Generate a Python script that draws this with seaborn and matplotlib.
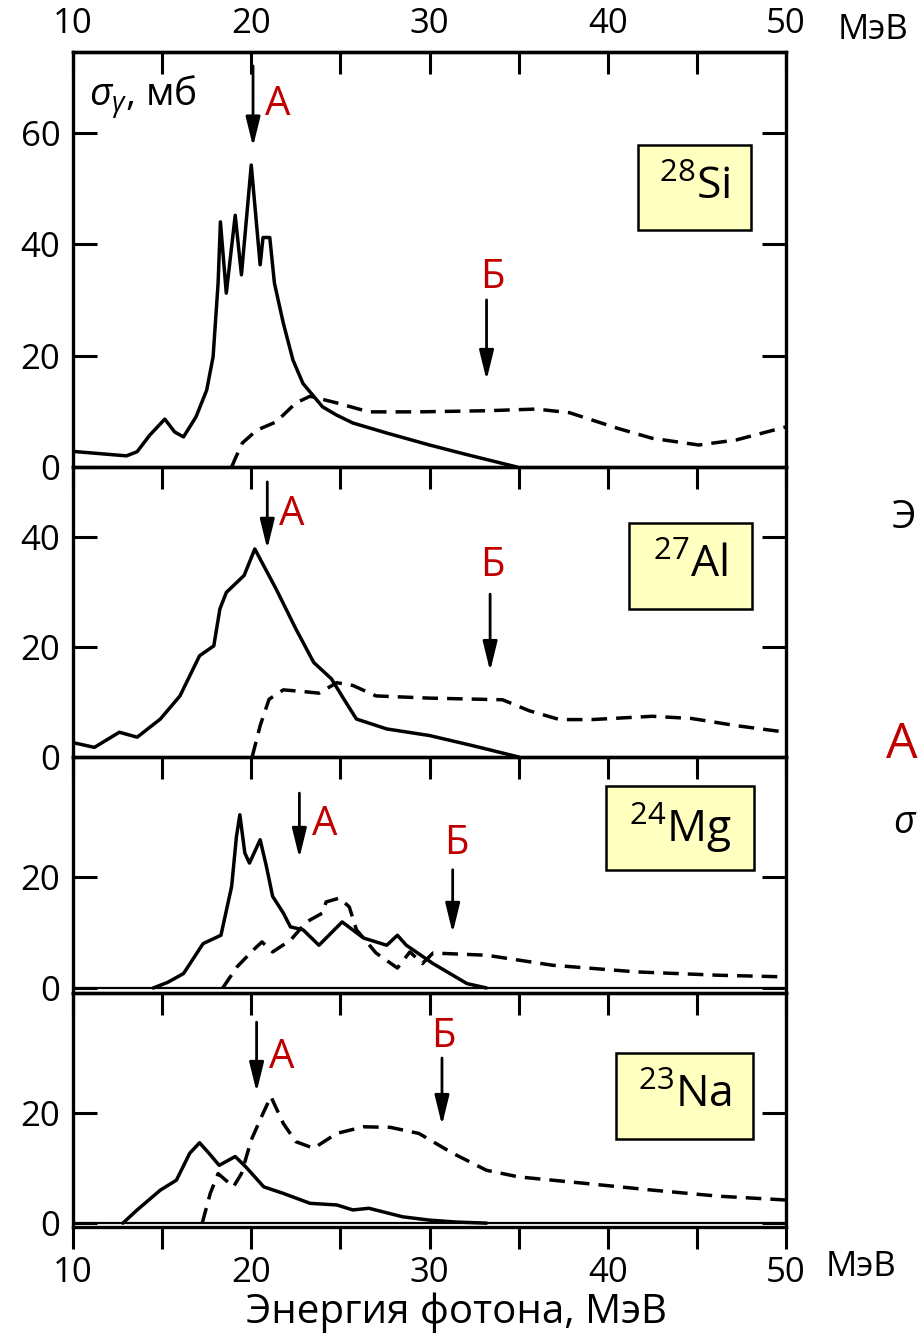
import numpy as np
import pandas as pd
import matplotlib.pyplot as plt
from matplotlib.patches import Rectangle
from matplotlib.ticker import FixedLocator
import seaborn as sns

# photoabsorption cross sections, mb vs photon energy, MeV
# solid = measured total, dashed = quasi-deuteron part
si_e = [10.0, 11.5, 13.0, 13.6, 14.3, 15.15, 15.7, 16.2, 16.9, 17.5, 17.86, 18.14, 18.27, 18.6, 19.1, 19.45,
        20.0, 20.5, 20.66, 21.04, 21.3, 21.8, 22.34, 22.9, 24.0, 24.8, 25.7, 27.6, 30.0, 32.0, 34.9]
si_s = [2.8, 2.4, 2.0, 2.75, 5.7, 8.6, 6.3, 5.4, 9.0, 13.8, 19.8, 33.0, 44.0, 31.2, 45.2, 34.5,
        54.2, 36.3, 41.2, 41.2, 33.0, 25.8, 19.2, 15.0, 10.8, 9.3, 7.9, 6.1, 3.95, 2.3, 0.0]
si_qd_e = [18.9, 19.1, 19.5, 20.3, 21.4, 22.5, 23.3, 24.8, 26.6, 29.4, 33.2, 36.0, 37.85, 40.6, 42.5, 45.1, 47.2, 50.0]
si_qd = [0.0, 1.5, 4.3, 6.6, 8.1, 11.5, 12.7, 11.5, 9.9, 9.9, 10.1, 10.4, 9.75, 6.9, 5.15, 3.95, 4.85, 7.2]

al_e = [10.0, 10.3, 11.2, 12.6, 13.6, 14.9, 16.0, 17.1, 17.9, 18.24, 18.6, 19.6, 20.2, 21.4, 22.5, 23.5,
        24.5, 25.2, 25.9, 27.6, 30.0, 32.5, 35.0]
al_s = [2.6, 2.4, 1.75, 4.5, 3.6, 6.9, 11.1, 18.4, 20.2, 26.9, 29.9, 33.0, 37.8, 30.5, 23.3, 17.2,
        14.2, 10.5, 6.9, 5.1, 3.9, 2.0, 0.0]
al_qd_e = [20.05, 20.5, 21.0, 21.8, 22.9, 23.8, 24.8, 25.7, 27.0, 30.0, 34.1, 35.6, 37.3, 39.1, 42.5, 44.7, 47.2, 50.0]
al_qd = [0.0, 5.7, 10.5, 12.2, 11.9, 11.6, 13.5, 13.0, 11.1, 10.7, 10.4, 8.4, 6.8, 6.8, 7.4, 7.0, 5.7, 4.5]

mg_e = [14.5, 15.3, 16.2, 17.3, 18.3, 18.9, 19.17, 19.36, 19.64, 19.9, 20.5, 20.85, 21.2, 21.8, 22.2, 22.9,
        23.8, 25.1, 26.3, 27.6, 28.2, 28.7, 30.2, 32.1, 33.2]
mg_s = [0.0, 1.0, 2.6, 8.0, 9.5, 18.3, 27.3, 31.2, 24.3, 22.5, 26.7, 21.9, 16.5, 13.5, 11.0, 10.5,
        7.7, 11.9, 9.0, 7.7, 9.5, 7.7, 4.4, 0.8, 0.0]
mg_qd_e = [18.4, 19.2, 20.1, 20.6, 21.2, 22.2, 23.1, 24.0, 24.2, 24.96, 25.5, 25.9, 27.0, 28.2, 28.9, 29.6,
           30.2, 33.2, 36.9, 41.6, 46.2, 50.0]
mg_qd = [0.0, 3.8, 6.8, 8.3, 6.5, 8.6, 11.9, 13.5, 15.5, 16.2, 14.6, 10.5, 6.3, 3.6, 6.5, 4.4,
         6.3, 5.9, 4.1, 2.9, 2.3, 2.0]

na_e = [12.8, 13.6, 14.9, 15.8, 16.55, 17.1, 17.6, 18.2, 19.1, 19.7, 20.7, 21.8, 23.3, 24.8, 25.7, 26.6,
        28.5, 30.0, 31.5, 33.2]
na_s = [0.0, 2.4, 6.0, 7.8, 12.7, 14.6, 12.8, 10.5, 12.1, 10.2, 6.6, 5.4, 3.6, 3.3, 2.4, 2.7,
        1.15, 0.55, 0.2, 0.0]
na_qd_e = [17.25, 17.7, 18.14, 19.0, 19.45, 20.0, 20.6, 21.1, 21.8, 22.5, 23.5, 24.8, 26.3, 27.8, 29.4, 31.3,
           33.2, 35.0, 38.8, 42.5, 46.2, 50.0]
na_qd = [0.0, 5.4, 9.0, 6.6, 9.0, 15.1, 19.5, 23.0, 18.1, 14.8, 13.6, 16.3, 17.5, 17.4, 16.3, 12.7,
         9.6, 8.4, 7.2, 6.0, 4.9, 4.2]

nuclei = ['28', '27', '24', '23']
elements = ['Si', 'Al', 'Mg', 'Na']
a_energy = [20.1, 20.9, 22.7, 20.3]   # arrow A
b_energy = [33.2, 33.4, 31.3, 30.7]   # arrow Б
y_ticks = [[0, 20, 40, 60], [0, 20, 40], [0, 20], [0, 20]]
x_labels = ['10', '20', '30', '40', '50']

sns.set_theme(style='white')
plt.rcParams['font.family'] = ['Open Sans', 'DejaVu Sans']
plt.rcParams['mathtext.fontset'] = 'custom'
plt.rcParams['mathtext.rm'] = 'Open Sans'
plt.rcParams['mathtext.it'] = 'Open Sans:italic'
for key in ['text.color', 'axes.labelcolor', 'xtick.color', 'ytick.color', 'axes.edgecolor']:
    plt.rcParams[key] = 'black'

red = '#c00000'
W, H = 920, 1337
fig = plt.figure(figsize=(W / 100, H / 100), dpi=100)
gs = fig.add_gridspec(4, 1, left=73 / W, right=786 / W, top=1 - 52 / H, bottom=1 - 1227 / H,
                      height_ratios=[415, 290, 236, 234], hspace=0)
axes = [fig.add_subplot(gs[i]) for i in range(4)]

curves = [(si_e, si_s, si_qd_e, si_qd), (al_e, al_s, al_qd_e, al_qd),
          (mg_e, mg_s, mg_qd_e, mg_qd), (na_e, na_s, na_qd_e, na_qd)]
ylims = [(0, 74.5), (0, 52.7), (-0.9, 41.6), (-0.7, 41.8)]
# arrow A: (tail, tip, label y), arrow Б: (tail, tip, label x, label y)
arrow_a = [(72, 57.5, 65), (50, 37.8, 44), (35.1, 23.4, 29.4), (36.5, 23.8, 30)]
arrow_b = [(30, 15.6, 33.5, 34), (29.6, 15.6, 33.5, 34.7), (21.3, 9.9, 31.5, 26), (30, 17.8, 30.8, 33.8)]
# element boxes in pixel coords (x0, y0, x1, y1)
boxes = [(638, 145, 751, 230), (629, 523, 752, 609), (606, 786, 754, 870), (616, 1053, 753, 1139)]

tick_fs = 25
for i, ax in enumerate(axes):
    e, s, qe, q = curves[i]
    sns.lineplot(x=e, y=s, ax=ax, color='black', lw=2.5, estimator=None, sort=False)
    sns.lineplot(x=qe, y=q, ax=ax, color='black', lw=2.5, estimator=None, sort=False,
                 linestyle=(0, (4.5, 2.6)))
    if i >= 2:
        ax.axhline(0, color='black', lw=1.6)
    ax.set_facecolor('none')
    ax.set_xlim(10, 50)
    ax.set_ylim(*ylims[i])
    ax.set_xlabel('')
    ax.set_ylabel('')
    for sp in ax.spines.values():
        sp.set_linewidth(2.4)
        sp.set_color('black')
    ax.xaxis.set_major_locator(FixedLocator([10, 20, 30, 40, 50]))
    ax.xaxis.set_minor_locator(FixedLocator([15, 25, 35, 45]))
    ax.tick_params(axis='x', which='both', direction='out', bottom=True, top=False,
                   length=16, width=2.2, labelbottom=(i == 3), labelsize=tick_fs, pad=5)
    ax.set_yticks(y_ticks[i])
    ax.tick_params(axis='y', direction='in', left=True, right=True, length=17, width=2.2,
                   labelsize=tick_fs, pad=9)
    if i == 3:
        ax.set_xticklabels(x_labels)

    # arrows A and Б
    ta, ha_, ly = arrow_a[i]
    ax.annotate('', xy=(a_energy[i], ha_), xytext=(a_energy[i], ta),
                arrowprops=dict(arrowstyle='-|>,head_length=0.9,head_width=0.22', color='black',
                                lw=2, mutation_scale=20, shrinkA=0, shrinkB=0))
    ax.text(a_energy[i] + 1.4, ly, 'А', color=red, fontsize=29, ha='center', va='center')
    tb, hb, bx, by = arrow_b[i]
    ax.annotate('', xy=(b_energy[i], hb), xytext=(b_energy[i], tb),
                arrowprops=dict(arrowstyle='-|>,head_length=0.9,head_width=0.22', color='black',
                                lw=2, mutation_scale=20, shrinkA=0, shrinkB=0))
    ax.text(bx, by, 'Б', color=red, fontsize=29, ha='center', va='center')

    # element label box
    x0, y0, x1, y1 = boxes[i]
    fig.patches.append(Rectangle((x0 / W, 1 - y1 / H), (x1 - x0) / W, (y1 - y0) / H,
                                 transform=fig.transFigure, fc='#ffffc0', ec='black', lw=1.8,
                                 zorder=3))
    fig.text((x0 + x1) / 2 / W, 1 - (y0 + y1) / 2 / H,
             r'$\mathregular{^{%s}}$%s' % (nuclei[i], elements[i]),
             fontsize=32, ha='center', va='center', zorder=4)

# top axis of the first panel
top = axes[0].secondary_xaxis('top')
top.xaxis.set_major_locator(FixedLocator([10, 20, 30, 40, 50]))
top.xaxis.set_minor_locator(FixedLocator([15, 25, 35, 45]))
top.set_xticklabels(x_labels)
top.tick_params(axis='x', which='both', direction='in', length=16, width=2.2,
                labelsize=tick_fs, pad=8)
top.spines['top'].set_linewidth(2.4)

axes[0].text(10.9, 66.4, r'$\sigma_{\gamma}$, мб', fontsize=28, ha='left', va='center')

fig.text(838 / W, 1 - 30 / H, 'МэВ', fontsize=25, ha='left', va='center')
fig.text(826 / W, 1 - 1267 / H, 'МэВ', fontsize=25, ha='left', va='center')
fig.text(456 / W, 1 - 1313 / H, 'Энергия фотона, МэВ', fontsize=29, ha='center', va='center')

# fragments of slide text at the right edge
fig.text(892 / W, 1 - 518 / H, 'Э', fontsize=28, ha='left', va='center')
fig.text(886 / W, 1 - 745 / H, 'А', fontsize=36, color=red, ha='left', va='center')
fig.text(893 / W, 1 - 823 / H, 'σ', fontsize=27, style='italic', ha='left', va='center')

fig.savefig('out.png', dpi=100)
